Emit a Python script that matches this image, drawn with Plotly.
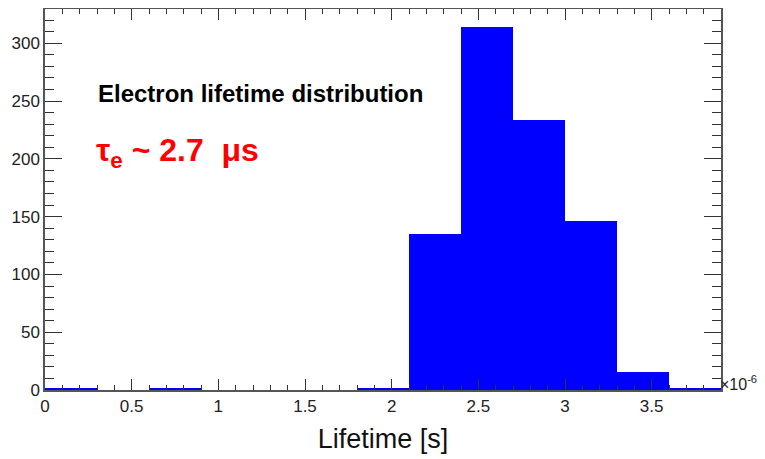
import plotly.graph_objects as go

# histogram of electron lifetimes, bin edges in microseconds
bin_edges = [0.0, 0.3, 0.6, 0.9, 1.2, 1.5, 1.8, 2.1, 2.4, 2.7, 3.0, 3.3, 3.6, 3.9]
counts = [1, 0, 1, 0, 0, 0, 2, 135, 314, 234, 146, 16, 1]

centers = [(a + b) / 2 for a, b in zip(bin_edges[:-1], bin_edges[1:])]
widths = [b - a for a, b in zip(bin_edges[:-1], bin_edges[1:])]

fig = go.Figure()
fig.add_trace(
    go.Bar(
        x=centers,
        y=counts,
        width=widths,
        marker=dict(color="rgb(0,0,255)", line=dict(width=0)),
        hoverinfo="x+y",
    )
)

FONT = "Liberation Sans, Arial, sans-serif"
axis_font = dict(family=FONT, size=17, color="#222")

# the page body adds an 8px margin, so the figure is a bit smaller than the window
fig.update_layout(
    width=757,
    height=451,
    margin=dict(l=37, r=44, t=1, b=69),
    plot_bgcolor="white",
    paper_bgcolor="white",
    showlegend=False,
    bargap=0,
    xaxis=dict(
        range=[0, 3.9],
        tickvals=[0, 0.5, 1, 1.5, 2, 2.5, 3, 3.5],
        ticktext=["0", "0.5", "1", "1.5", "2", "2.5", "3", "3.5"],
        ticks="inside",
        ticklen=11,
        tickcolor="#333",
        minor=dict(ticks="inside", dtick=0.1, tick0=0, ticklen=5, tickcolor="#333"),
        showline=True,
        linecolor="#555",
        linewidth=1.5,
        mirror="ticks",
        showgrid=False,
        zeroline=False,
        automargin=False,
        tickfont=axis_font,
        title=dict(
            text="Lifetime [s]",
            font=dict(family=FONT, size=27, color="#111"),
            standoff=14,
        ),
    ),
    yaxis=dict(
        range=[0, 329.7],
        tickvals=[0, 50, 100, 150, 200, 250, 300],
        ticks="inside",
        ticklen=17,
        tickcolor="#333",
        minor=dict(ticks="inside", dtick=10, tick0=0, ticklen=9, tickcolor="#333"),
        showline=True,
        linecolor="#555",
        linewidth=1.5,
        mirror="ticks",
        showgrid=False,
        zeroline=False,
        automargin=False,
        tickfont=axis_font,
    ),
    annotations=[
        dict(
            text="×10<sup>-6</sup>",
            xref="paper",
            yref="paper",
            x=1.0,
            y=(390 - 383) / 381,
            xanchor="left",
            yanchor="middle",
            xshift=-3,
            showarrow=False,
            font=dict(family=FONT, size=16, color="#222"),
        ),
        dict(
            text="<b>Electron lifetime distribution</b>",
            xref="paper",
            yref="paper",
            x=(96 - 45) / 676,
            y=(390 - 93) / 381,
            xanchor="left",
            yanchor="middle",
            showarrow=False,
            font=dict(family=FONT, size=24, color="black"),
        ),
        dict(
            text="<b>τ<sub>e</sub> ~ 2.7  μs</b>",
            xref="paper",
            yref="paper",
            x=(94 - 45) / 676,
            y=(390 - 152) / 381,
            xanchor="left",
            yanchor="middle",
            showarrow=False,
            font=dict(family=FONT, size=32, color="red"),
        ),
    ],
)

fig.write_html("out.html")
